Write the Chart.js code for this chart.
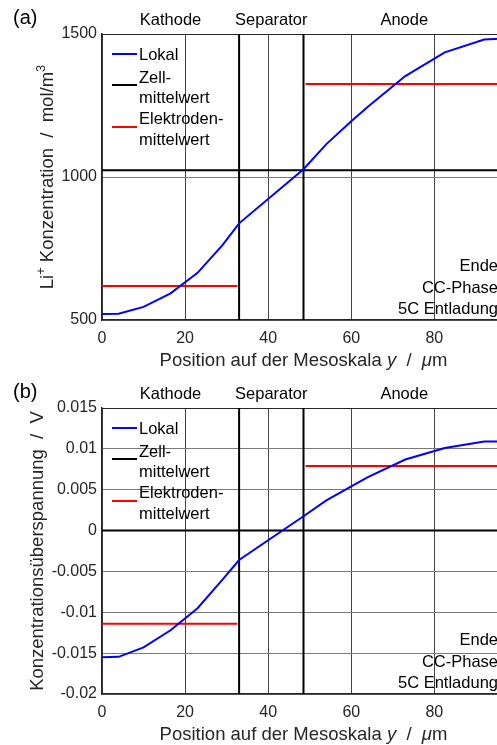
<!DOCTYPE html>
<html>
<head>
<meta charset="utf-8">
<script src="https://cdn.jsdelivr.net/npm/chart.js@4.4.1/dist/chart.umd.min.js"></script>
<style>
  html, body { margin: 0; padding: 0; background: #fff; width: 497px; height: 745px; overflow: hidden; }
  .panel { position: absolute; left: 0; width: 530px; height: 372px; }
  #wrapA { top: 0; }
  #wrapB { top: 374px; }
</style>
</head>
<body>
<div class="panel" id="wrapA"><canvas id="chartA" width="530" height="372"></canvas></div>
<div class="panel" id="wrapB"><canvas id="chartB" width="530" height="372"></canvas></div>
<script>
// positions of the mesh nodes (µm) and values
const xPos = [0, 4, 10, 16.5, 23, 29, 33, 48.5, 54, 60, 64, 73, 82.5, 92, 97];
const concLocal = [521, 522, 546, 593, 665, 762, 838, 1027, 1115, 1195, 1246, 1353, 1436, 1481, 1484];
const voltLocal = [-0.0155, -0.01545, -0.0143, -0.0122, -0.0095, -0.0060, -0.0036, 0.00175, 0.0037, 0.0054, 0.00655, 0.0087, 0.0101, 0.0109, 0.0109];
const concCellMean = 1024;
const voltCellMean = 0;
const concElectrodeMean = [619, 1325];     // Kathode, Anode
const voltElectrodeMean = [-0.0114, 0.0079];
const cathodeRange = [0, 32.6];
const anodeRange = [49, 97];
const regionNames = ['Kathode', 'Separator', 'Anode'];
const regionBounds = [0, 33, 48.5, 97];
const xTicks = [0, 20, 40, 60, 80];
const concTicks = [500, 1000, 1500];
const voltTicks = [-0.02, -0.015, -0.01, -0.005, 0, 0.005, 0.01, 0.015];
const legendLabels = [['Lokal'], ['Zell-', 'mittelwert'], ['Elektroden-', 'mittelwert']];
const legendColors = ['#0000ff', '#000000', '#ff0000'];
const noteLines = ['Ende', 'CC-Phase', '5C Entladung'];

const FONT = '"Liberation Sans", Arial, sans-serif';
Chart.defaults.font.family = FONT;
Chart.defaults.color = '#262626';

function drawRich(ctx, parts, cx, y, size) {
    let w = 0;
    const fontFor = p => (p.i ? 'italic ' : '') + (p.sup ? size * 0.7 : size) + 'px ' + FONT;
    parts.forEach(p => { ctx.font = fontFor(p); w += ctx.measureText(p.t).width; });
    let x = cx - w / 2;
    ctx.textAlign = 'left';
    parts.forEach(p => {
        ctx.font = fontFor(p);
        ctx.fillText(p.t, x, p.sup ? y - size * 0.42 : y);
        x += ctx.measureText(p.t).width;
    });
}

const decor = {
    id: 'decor',
    afterDraw(chart, args, o) {
        const ctx = chart.ctx;
        const a = chart.chartArea;
        const xs = chart.scales.x;
        ctx.save();
        ctx.fillStyle = '#000';
        ctx.textBaseline = 'alphabetic';

        ctx.font = '20px ' + FONT;
        ctx.textAlign = 'left';
        ctx.fillText(o.letter, 13, 24);

        ctx.font = '16.5px ' + FONT;
        ctx.textAlign = 'center';
        regionNames.forEach((n, i) => {
            ctx.fillText(n, xs.getPixelForValue((regionBounds[i] + regionBounds[i + 1]) / 2), a.top - 9);
        });

        // legend
        const lineY = [20, 51, 93];
        const textY = [[25.5], [48.5, 68.5], [89.5, 110.5]];
        ctx.lineWidth = 2;
        legendLabels.forEach((lines, i) => {
            ctx.strokeStyle = legendColors[i];
            ctx.beginPath();
            ctx.moveTo(112, a.top + lineY[i]);
            ctx.lineTo(137, a.top + lineY[i]);
            ctx.stroke();
            ctx.textAlign = 'left';
            lines.forEach((t, j) => ctx.fillText(t, 139, a.top + textY[i][j]));
        });

        ctx.textAlign = 'right';
        noteLines.forEach((t, i) => ctx.fillText(t, a.right - 7, a.bottom - 49 + i * 21.5));

        ctx.fillStyle = '#262626';
        drawRich(ctx, [
            { t: 'Position auf der Mesoskala ' }, { t: 'y', i: true }, { t: '  /  ' },
            { t: 'μ', i: true }, { t: 'm' }
        ], (a.left + a.right) / 2, a.bottom + 45.5, 18.5);

        ctx.translate(o.yTitleX, (a.top + a.bottom) / 2);
        ctx.rotate(-Math.PI / 2);
        drawRich(ctx, o.yTitle, 0, 0, 18.5);
        ctx.restore();
    }
};

function makeChart(id, local, cellMean, electrodeMean, yTicks, letter, yTitle, yTitleX) {
    const yMin = yTicks[0];
    const yMax = yTicks[yTicks.length - 1];
    const line = (pts, color) => ({
        data: pts, borderColor: color, borderWidth: 2, pointRadius: 0, fill: false, tension: 0
    });
    return new Chart(document.getElementById(id), {
        type: 'line',
        data: {
            datasets: [
                line(xPos.map((x, i) => ({ x: x, y: local[i] })), '#0000ff'),
                line([{ x: regionBounds[0], y: cellMean }, { x: regionBounds[3], y: cellMean }], '#000000'),
                line([{ x: cathodeRange[0], y: electrodeMean[0] }, { x: cathodeRange[1], y: electrodeMean[0] }], '#ff0000'),
                line([{ x: anodeRange[0], y: electrodeMean[1] }, { x: anodeRange[1], y: electrodeMean[1] }], '#ff0000'),
                line([{ x: regionBounds[1], y: yMin }, { x: regionBounds[1], y: yMax }], '#000000'),
                line([{ x: regionBounds[2], y: yMin }, { x: regionBounds[2], y: yMax }], '#000000')
            ]
        },
        options: {
            responsive: false,
            animation: false,
            layout: { padding: { top: 34, right: 25, left: 0, bottom: 0 } },
            scales: {
                x: {
                    type: 'linear',
                    min: regionBounds[0],
                    max: regionBounds[3],
                    afterBuildTicks: s => { s.ticks = xTicks.map(v => ({ value: v })); },
                    afterFit: s => { s.height = 52; },
                    ticks: { font: { size: 16 }, color: '#262626', padding: 9, maxRotation: 0, autoSkip: false },
                    grid: { color: '#444', lineWidth: 1, drawTicks: false },
                    border: { color: '#262626', width: 1.5 }
                },
                y: {
                    type: 'linear',
                    min: yMin,
                    max: yMax,
                    afterBuildTicks: s => { s.ticks = yTicks.map(v => ({ value: v })); },
                    afterFit: s => { s.width = 102; },
                    ticks: {
                        font: { size: 16 }, color: '#262626', padding: 5, autoSkip: false,
                        callback: v => String(Math.round(v * 1000) / 1000)
                    },
                    grid: {
                        color: c => (c.tick && c.tick.value === yMax ? '#262626' : '#7a7a7a'),
                        lineWidth: 1, drawTicks: false
                    },
                    border: { color: '#262626', width: 1.5 }
                }
            },
            plugins: {
                legend: { display: false },
                tooltip: { enabled: false },
                decor: { letter: letter, yTitle: yTitle, yTitleX: yTitleX }
            }
        },
        plugins: [decor]
    });
}

makeChart('chartA', concLocal, concCellMean, concElectrodeMean, concTicks, '(a)',
    [{ t: 'Li' }, { t: '+', sup: true }, { t: ' Konzentration  /  mol/m' }, { t: '3', sup: true }], 53);
makeChart('chartB', voltLocal, voltCellMean, voltElectrodeMean, voltTicks, '(b)',
    [{ t: 'Konzentrationsüberspannung  /  V' }], 43);
</script>
</body>
</html>
